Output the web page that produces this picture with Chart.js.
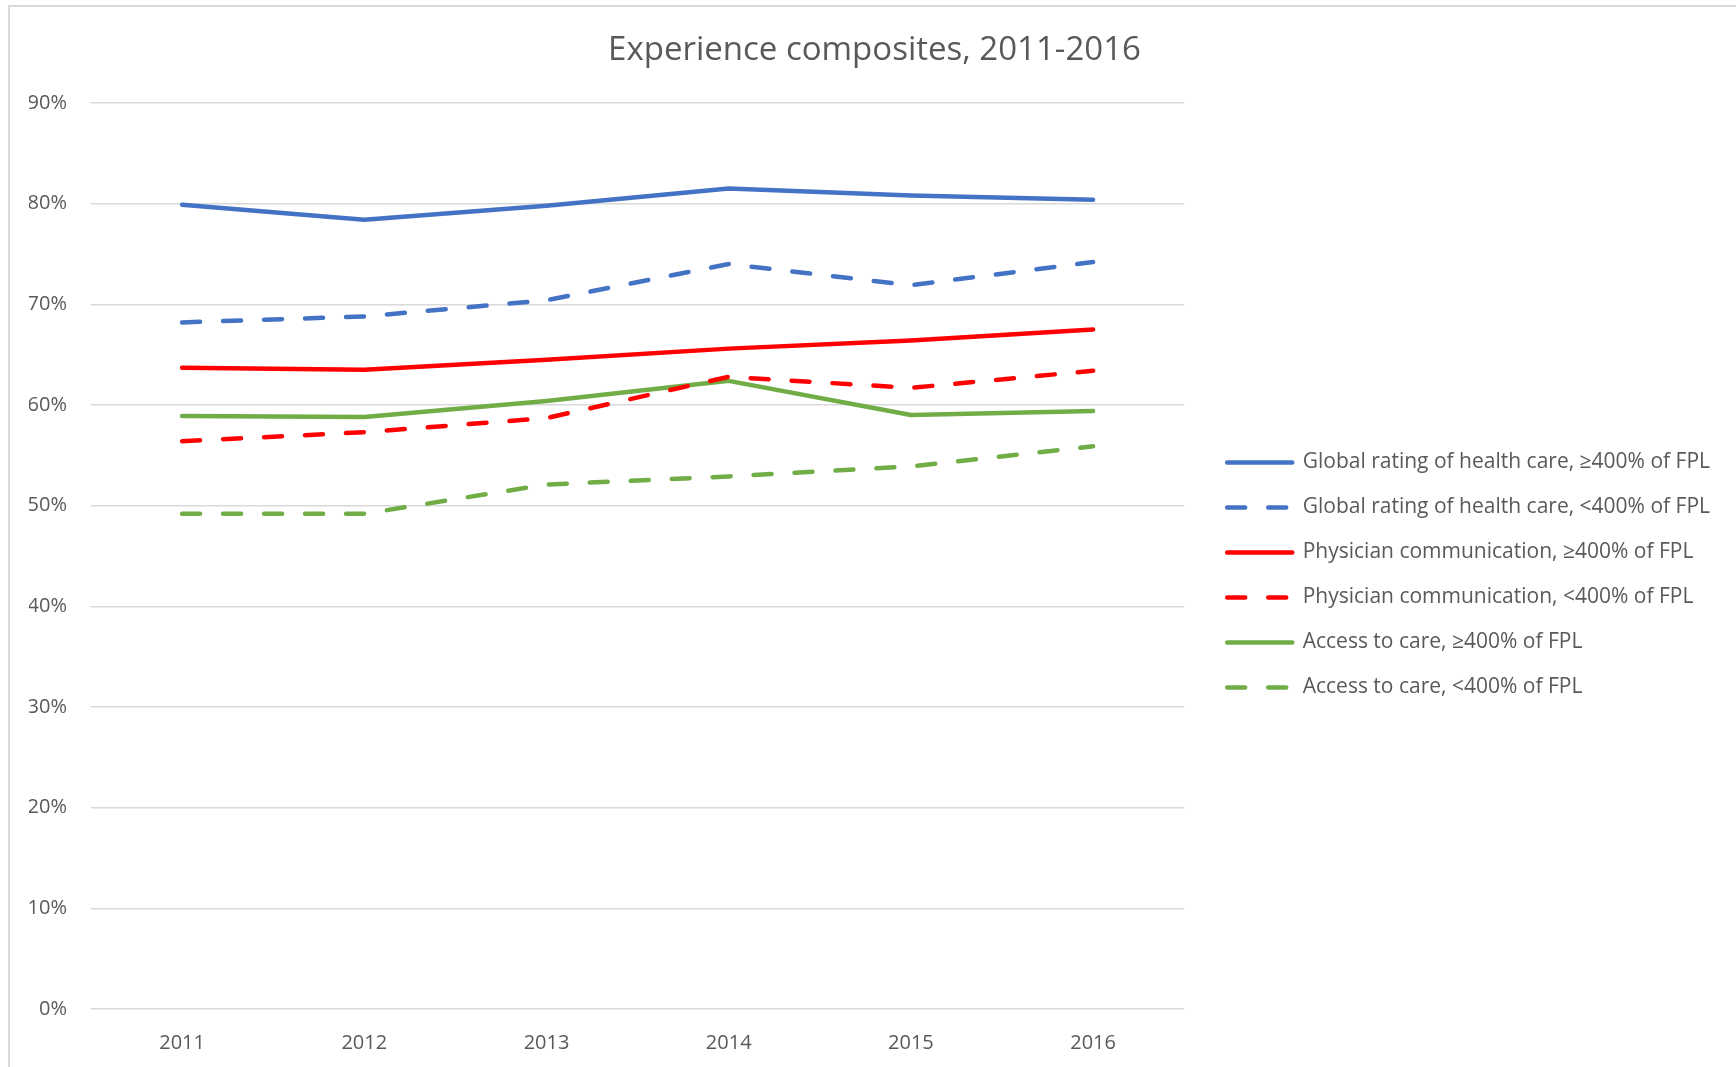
<!DOCTYPE html>
<html>
<head>
<meta charset="utf-8">
<script src="https://cdn.jsdelivr.net/npm/chart.js@4/dist/chart.umd.min.js"></script>
<style>
  html, body { margin: 0; padding: 0; background: #fff; }
  #wrap { width: 1736px; height: 1067px; }
</style>
</head>
<body>
<div id="wrap"><canvas id="chart"></canvas></div>
<script>
const years = ['2011', '2012', '2013', '2014', '2015', '2016'];

const globalHigh = [79.9, 78.4, 79.8, 81.5, 80.8, 80.4];
const globalLow = [68.2, 68.8, 70.4, 74.0, 71.9, 74.2];
const physHigh = [63.7, 63.5, 64.5, 65.6, 66.4, 67.5];
const physLow = [56.4, 57.3, 58.7, 62.8, 61.7, 63.4];
const accessHigh = [58.9, 58.8, 60.4, 62.4, 59.0, 59.4];
const accessLow = [49.2, 49.2, 52.1, 52.9, 53.9, 55.9];

const seriesNames = [
    'Global rating of health care, \u2265400% of FPL',
    'Global rating of health care, <400% of FPL',
    'Physician communication, \u2265400% of FPL',
    'Physician communication, <400% of FPL',
    'Access to care, \u2265400% of FPL',
    'Access to care, <400% of FPL'
];

const BLUE = '#4472C4';
const RED = '#FF0000';
const GREEN = '#70AD47';
const TEXT = '#595959';
const GRID = '#D9D9D9';
const FONT = "'Open Sans', sans-serif";

function line(label, data, color, dashed) {
    return {
        label: label,
        data: data,
        borderColor: color,
        backgroundColor: color,
        borderWidth: 4.5,
        borderDash: dashed ? [18, 23] : [],
        borderCapStyle: 'round',
        borderJoinStyle: 'round',
        pointRadius: 0,
        pointHoverRadius: 0,
        tension: 0,
        fill: false,
        yAxisID: 'y'
    };
}

// grey frame round the chart, like the pasted Excel object
const frame = {
    id: 'frame',
    beforeDraw(chart) {
        const ctx = chart.ctx;
        ctx.save();
        ctx.strokeStyle = GRID;
        ctx.lineWidth = 2;
        ctx.beginPath();
        ctx.moveTo(9, chart.height);
        ctx.lineTo(9, 6);
        ctx.lineTo(chart.width, 6);
        ctx.stroke();
        ctx.restore();
    }
};

new Chart(document.getElementById('chart'), {
    type: 'line',
    data: {
        labels: years,
        datasets: [
            line(seriesNames[0], globalHigh, BLUE, false),
            line(seriesNames[1], globalLow, BLUE, true),
            line(seriesNames[2], physHigh, RED, false),
            line(seriesNames[3], physLow, RED, true),
            line(seriesNames[4], accessHigh, GREEN, false),
            line(seriesNames[5], accessLow, GREEN, true)
        ]
    },
    options: {
        responsive: true,
        maintainAspectRatio: false,
        animation: false,
        layout: {
            padding: { top: 0, left: 29, bottom: 0, right: 16 }
        },
        scales: {
            x: {
                offset: true,
                grid: { display: false, drawTicks: false },
                border: { display: false },
                ticks: {
                    color: TEXT,
                    font: { family: FONT, size: 20 },
                    padding: 22.5
                },
                afterFit: s => { s.height = 58; }
            },
            y: {
                min: 0,
                max: 90,
                grid: { color: GRID, lineWidth: 1.5, drawTicks: false },
                border: { display: false },
                ticks: {
                    stepSize: 10,
                    color: TEXT,
                    font: { family: FONT, size: 20 },
                    padding: 24,
                    callback: v => v + '%'
                },
                afterFit: s => { s.width = 62; }
            },
            // empty spacer between plot and legend
            gap: {
                type: 'linear',
                position: 'right',
                grid: { display: false },
                border: { display: false },
                ticks: { display: false },
                afterFit: s => { s.width = 19; }
            }
        },
        plugins: {
            title: {
                display: true,
                text: 'Experience composites, 2011-2016',
                color: TEXT,
                font: { family: FONT, size: 33, weight: 'normal' },
                padding: { top: 31.2, bottom: 32.2 }
            },
            legend: {
                position: 'right',
                maxWidth: 700,
                title: {
                    display: true,
                    text: ' ',
                    font: { family: FONT, size: 21 },
                    padding: { top: 0, bottom: 57.6 }
                },
                labels: {
                    color: TEXT,
                    font: { family: FONT, size: 21 },
                    usePointStyle: true,
                    pointStyle: 'line',
                    pointStyleWidth: 65,
                    padding: 24,
                    generateLabels(chart) {
                        const items = Chart.defaults.plugins.legend.labels.generateLabels(chart);
                        items.forEach(it => {
                            const ds = chart.data.datasets[it.datasetIndex];
                            it.lineDash = ds.borderDash;
                            it.lineWidth = ds.borderWidth;
                            it.lineCap = 'round';
                            it.strokeStyle = ds.borderColor;
                        });
                        return items;
                    }
                }
            },
            tooltip: { enabled: false }
        }
    },
    plugins: [frame]
});
</script>
</body>
</html>
